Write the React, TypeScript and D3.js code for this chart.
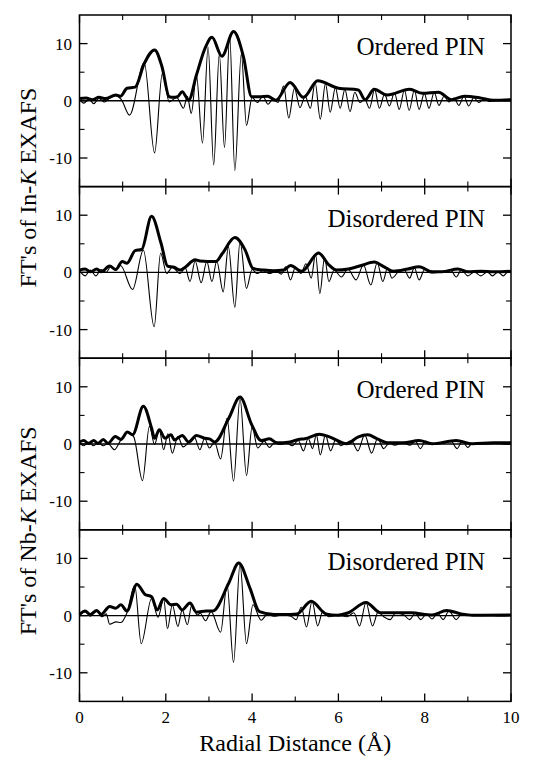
import React from 'react';
import * as d3 from 'd3';

type Pt = [number, number];

// |FT| envelopes (thick) and Im parts (thin)
const inOrdMag: Pt[] = [[0,0.4],[0.15,0.5],[0.3,0.2],[0.45,0.6],[0.6,0.4],[0.84,1.0],[0.95,0.8],[1.1,2.2],[1.29,2.4],[1.5,6.5],[1.74,8.9],[1.91,6.0],[2.08,0.7],[2.17,0.6],[2.27,0.7],[2.38,1.6],[2.53,0.1],[2.71,4.5],[2.9,9.0],[3.07,11.1],[3.3,7.8],[3.57,12.1],[3.8,7.7],[3.99,0.7],[4.17,0.7],[4.36,0.8],[4.55,0.1],[4.88,3.2],[5.19,0.6],[5.52,3.5],[6.0,2.2],[6.46,1.9],[6.62,0.2],[6.83,2.0],[7.13,1.0],[7.65,2.0],[7.95,1.3],[8.32,1.5],[8.62,0.2],[8.92,0.8],[9.29,0.5],[9.59,0.1],[10,0.2]];
const inOrdIm: Pt[] = [[0,0.2],[0.1,-0.4],[0.22,0.3],[0.33,-0.5],[0.45,0.4],[0.58,-0.2],[0.7,0.5],[0.84,0.9],[0.97,0.2],[1.16,-2.5],[1.5,6.7],[1.74,-9.1],[1.92,4.8],[2.08,-0.2],[2.25,0.6],[2.41,-1.3],[2.5,0.8],[2.59,-2.2],[2.71,4.5],[2.85,-7.4],[2.98,9.4],[3.11,-11.2],[3.24,8.2],[3.36,-8.2],[3.48,11.4],[3.6,-12.2],[3.75,8.2],[3.87,-4.3],[4.0,0.6],[4.12,-0.3],[4.25,0.8],[4.37,-0.6],[4.49,0.4],[4.6,-0.3],[4.73,2.6],[4.85,-3.0],[4.98,2.2],[5.11,-1.2],[5.23,0.8],[5.35,-1.3],[5.46,3.2],[5.58,-3.2],[5.7,3.0],[5.81,-2.0],[5.93,2.3],[6.04,-1.3],[6.15,2.0],[6.27,-1.9],[6.38,1.5],[6.5,-0.3],[6.61,0.3],[6.72,-1.3],[6.84,2.0],[6.95,-1.3],[7.07,1.2],[7.18,-0.9],[7.3,1.4],[7.41,-1.5],[7.53,1.9],[7.64,-1.7],[7.76,1.9],[7.87,-1.5],[7.99,1.3],[8.1,-1.3],[8.22,1.5],[8.33,-0.8],[8.45,0.8],[8.56,-0.2],[8.68,0.5],[8.79,-0.8],[8.91,0.8],[9.02,-0.9],[9.14,0.6],[9.25,-0.3],[9.37,0.3],[9.5,-0.1],[9.7,0.1],[10,0]];

const inDisMag: Pt[] = [[0,0.4],[0.13,0.6],[0.25,0.1],[0.4,0.6],[0.5,0.1],[0.7,1.1],[0.84,0.5],[0.99,1.9],[1.1,1.6],[1.29,3.8],[1.44,4.0],[1.67,9.8],[1.89,5.1],[2.04,1.1],[2.19,0.9],[2.33,0.4],[2.45,0.9],[2.68,2.2],[2.79,2.0],[3.16,1.9],[3.31,3.3],[3.6,6.1],[3.84,3.9],[4.02,0.7],[4.28,0.4],[4.5,0.3],[4.73,0.4],[4.89,1.2],[5.15,0.2],[5.54,3.4],[5.78,1.3],[5.96,0.4],[6.23,0.6],[6.53,1.2],[6.83,1.8],[7.05,1.0],[7.28,0.2],[7.61,0.6],[7.87,1.0],[8.17,0.1],[8.4,0.1],[8.77,0.6],[9.0,0.1],[9.3,0.2],[9.6,0.1],[10,0.2]];
const inDisIm: Pt[] = [[0,0.3],[0.13,-0.6],[0.25,0.4],[0.38,-0.6],[0.5,0.5],[0.62,0.0],[0.72,1.0],[0.84,0.4],[0.95,1.2],[1.23,-3.0],[1.48,3.9],[1.73,-9.5],[1.88,3.4],[2.02,-0.2],[2.15,0.9],[2.33,-0.2],[2.45,0.8],[2.56,-1.6],[2.68,2.0],[2.82,-1.8],[2.95,1.9],[3.07,-1.6],[3.18,2.0],[3.33,-3.4],[3.45,4.5],[3.6,-6.1],[3.72,5.4],[3.87,-2.8],[4.0,0.5],[4.12,-0.2],[4.25,0.3],[4.4,-0.2],[4.55,0.2],[4.68,-0.3],[4.78,1.0],[4.89,-1.3],[5.0,0.8],[5.13,-0.2],[5.25,1.5],[5.37,-1.0],[5.47,3.2],[5.57,-3.7],[5.68,2.6],[5.78,-1.6],[5.9,0.4],[6.07,-0.8],[6.22,0.6],[6.41,-1.3],[6.58,1.3],[6.75,-2.2],[6.9,1.7],[7.03,-1.6],[7.14,0.8],[7.24,-1.0],[7.4,0.2],[7.52,0.5],[7.65,-1.0],[7.76,0.8],[7.87,-1.3],[8.0,0.5],[8.15,-0.1],[8.4,0.1],[8.6,0.4],[8.73,-0.8],[8.85,0.4],[9.0,-0.6],[9.15,0.1],[9.3,-0.6],[9.45,0.1],[9.57,-0.6],[9.7,0.1],[9.82,-0.6],[9.93,0.1],[10,0]];

const nbOrdMag: Pt[] = [[0,0.35],[0.1,0.6],[0.21,0.1],[0.33,0.6],[0.43,0.1],[0.55,0.8],[0.66,0.1],[0.83,1.3],[0.96,0.8],[1.11,2.1],[1.23,1.6],[1.48,6.6],[1.67,2.8],[1.74,1.0],[1.85,2.5],[1.98,1.0],[2.12,1.6],[2.2,0.7],[2.38,1.5],[2.53,0.35],[2.71,1.5],[2.9,1.0],[3.01,0.9],[3.13,0.35],[3.46,4.5],[3.72,8.2],[3.99,3.4],[4.21,0.6],[4.4,0.9],[4.58,0.2],[4.88,0.35],[5.07,0.8],[5.22,0.9],[5.56,1.7],[5.78,1.3],[6.19,0.05],[6.45,1.2],[6.68,1.6],[6.9,0.9],[7.16,0.2],[7.5,0.2],[7.87,0.6],[8.17,0.05],[8.73,0.6],[9.1,0.05],[9.59,0.2],[10,0.2]];
const nbOrdIm: Pt[] = [[0,0.2],[0.1,-0.3],[0.21,0.3],[0.33,-0.3],[0.43,0.3],[0.55,-0.3],[0.66,0.1],[0.81,-1.0],[0.95,0.6],[1.12,2.1],[1.26,1.2],[1.46,-6.4],[1.62,3.1],[1.74,-0.1],[1.85,2.5],[1.95,-1.0],[2.05,1.8],[2.15,-1.6],[2.28,1.3],[2.4,-0.5],[2.53,0.3],[2.66,1.2],[2.79,-1.0],[2.9,1.0],[3.01,-0.7],[3.13,0.3],[3.27,-2.6],[3.42,4.5],[3.57,-6.5],[3.72,8.0],[3.87,-5.5],[4.0,3.0],[4.13,-0.7],[4.28,0.5],[4.4,-0.6],[4.52,0.2],[4.65,-0.1],[4.8,0.2],[4.93,-0.3],[5.07,0.6],[5.19,-1.2],[5.3,1.0],[5.4,-0.8],[5.49,1.6],[5.58,-1.9],[5.7,1.6],[5.82,-1.2],[5.94,0.8],[6.05,-0.3],[6.17,0.1],[6.3,0.6],[6.45,-1.2],[6.61,1.6],[6.77,-1.6],[6.91,1.0],[7.05,-0.8],[7.18,0.2],[7.3,-0.2],[7.5,0.2],[7.66,-0.2],[7.78,0.5],[7.9,-0.8],[8.02,0.5],[8.17,-0.1],[8.4,0.1],[8.62,0.4],[8.75,-0.8],[8.87,0.5],[9.0,-0.6],[9.1,0.1],[9.4,0],[9.6,0.1],[10,0]];

const nbDisMag: Pt[] = [[0,0.2],[0.13,0.8],[0.25,0.2],[0.4,0.9],[0.5,0.2],[0.7,1.6],[0.84,1.3],[0.96,1.9],[1.1,0.8],[1.33,5.5],[1.52,3.7],[1.67,3.3],[1.8,1.0],[1.95,3.0],[2.12,1.9],[2.25,2.0],[2.38,1.0],[2.56,2.2],[2.71,0.6],[2.94,0.8],[3.09,0.8],[3.46,5.7],[3.69,9.2],[3.95,4.8],[4.17,0.7],[4.51,0.2],[4.73,0.2],[5.04,0.3],[5.37,2.5],[5.71,0.3],[5.97,0.05],[6.23,0.5],[6.64,2.3],[6.98,0.5],[7.24,0.5],[7.69,0.5],[8.17,0.1],[8.51,0.9],[8.84,0.3],[9.14,0.05],[10,0.1]];
const nbDisIm: Pt[] = [[0,0.1],[0.13,0.7],[0.25,-0.1],[0.4,0.8],[0.52,-0.2],[0.62,0.3],[0.7,-1.5],[0.85,-1.1],[0.96,-1.2],[1.1,0.5],[1.28,5.3],[1.43,-4.9],[1.67,3.0],[1.82,-0.3],[1.95,2.9],[2.04,-2.3],[2.15,1.9],[2.28,-1.9],[2.38,1.0],[2.5,-1.6],[2.6,1.8],[2.73,0.1],[2.8,0.4],[2.92,-0.9],[3.05,0.7],[3.27,-2.9],[3.42,5.4],[3.57,-8.2],[3.72,9.0],[3.87,-4.9],[4.02,1.9],[4.21,-0.8],[4.35,0.2],[4.5,-0.1],[4.7,0.1],[4.9,-0.1],[5.02,-0.7],[5.14,1.5],[5.26,-2.0],[5.39,2.5],[5.52,-1.8],[5.64,0.8],[5.78,-0.2],[6.0,0.05],[6.2,-0.2],[6.36,0.5],[6.49,-1.8],[6.64,2.3],[6.79,-1.8],[6.92,0.6],[7.05,-0.2],[7.2,-0.7],[7.32,0.4],[7.5,0.2],[7.65,-0.7],[7.78,0.4],[7.91,-0.7],[8.04,0.3],[8.17,-0.6],[8.3,0.4],[8.43,-0.7],[8.56,0.8],[8.73,-0.7],[8.85,0.2],[9.1,0],[9.4,0.1],[9.7,-0.05],[10,0.05]];

const panelLabels = ['Ordered PIN', 'Disordered PIN', 'Ordered PIN', 'Disordered PIN'];
const xMajor = [0, 2, 4, 6, 8, 10];
const xMinor = [1, 3, 5, 7, 9];
const yMajor = [-10, 0, 10];
const yMinor = [-5, 5];

const panels = [
  { mag: inOrdMag, im: inOrdIm, label: panelLabels[0] },
  { mag: inDisMag, im: inDisIm, label: panelLabels[1] },
  { mag: nbOrdMag, im: nbOrdIm, label: panelLabels[2] },
  { mag: nbDisMag, im: nbDisIm, label: panelLabels[3] },
];

const FONT = 'Liberation Serif, Tinos, Times New Roman, Times, Nimbus Roman, FreeSerif, Noto Serif, DejaVu Serif, serif';

export default function App() {
  const W = 541, H = 767;
  const left = 79.5, right = 511, top = 15, ph = 171.6;
  const x = d3.scaleLinear().domain([0, 10]).range([left, right]);

  return (
    <div style={{ position: 'absolute', left: 0, top: 0, fontFamily: FONT }}>
      <svg width={W} height={H} style={{ display: 'block', background: '#fff' }} fontFamily={FONT}>
        {panels.map((p, i) => {
          const t = top + i * ph;
          const y = d3.scaleLinear().domain([-15, 15]).range([t + ph, t]);
          const line = d3.line<Pt>().x(d => x(d[0])).y(d => y(d[1])).curve(d3.curveMonotoneX);
          return (
            <g key={i}>
              <line x1={left} x2={right} y1={y(0)} y2={y(0)} stroke="#000" strokeWidth={1.4} />
              <path d={line(p.im) || ''} fill="none" stroke="#000" strokeWidth={1.1} />
              <path d={line(p.mag) || ''} fill="none" stroke="#000" strokeWidth={3} strokeLinejoin="round" />
              <rect x={left} y={t} width={right - left} height={ph} fill="none" stroke="#000" strokeWidth={1.5} />
              {xMajor.map(v => (
                <g key={'xM' + v}>
                  <line x1={x(v)} x2={x(v)} y1={t} y2={t + 8} stroke="#000" strokeWidth={1.3} />
                  <line x1={x(v)} x2={x(v)} y1={t + ph} y2={t + ph - 8} stroke="#000" strokeWidth={1.3} />
                </g>
              ))}
              {xMinor.map(v => (
                <g key={'xm' + v}>
                  <line x1={x(v)} x2={x(v)} y1={t} y2={t + 5} stroke="#000" strokeWidth={1.1} />
                  <line x1={x(v)} x2={x(v)} y1={t + ph} y2={t + ph - 5} stroke="#000" strokeWidth={1.1} />
                </g>
              ))}
              {yMajor.map(v => (
                <g key={'yM' + v}>
                  <line x1={left} x2={left + 8} y1={y(v)} y2={y(v)} stroke="#000" strokeWidth={1.3} />
                  <line x1={right} x2={right - 8} y1={y(v)} y2={y(v)} stroke="#000" strokeWidth={1.3} />
                  <text x={72} y={y(v)} dy="0.35em" textAnchor="end" fontSize={17}>{v}</text>
                </g>
              ))}
              {yMinor.map(v => (
                <g key={'ym' + v}>
                  <line x1={left} x2={left + 5} y1={y(v)} y2={y(v)} stroke="#000" strokeWidth={1.1} />
                  <line x1={right} x2={right - 5} y1={y(v)} y2={y(v)} stroke="#000" strokeWidth={1.1} />
                </g>
              ))}
              <text x={485} y={t + 40} textAnchor="end" fontSize={25}>{p.label}</text>
            </g>
          );
        })}
        {xMajor.map(v => (
          <text key={'xl' + v} x={x(v)} y={top + 4 * ph + 22} textAnchor="middle" fontSize={17}>{v}</text>
        ))}
        <text x={(left + right) / 2} y={751} textAnchor="middle" fontSize={24}>Radial Distance (Å)</text>
        <text transform={`translate(36,${top + ph + 1}) rotate(-90)`} textAnchor="middle" fontSize={24}>
          FT's of In-<tspan fontStyle="italic">K</tspan> EXAFS
        </text>
        <text transform={`translate(36,${top + 3 * ph + 1}) rotate(-90)`} textAnchor="middle" fontSize={24}>
          FT's of Nb-<tspan fontStyle="italic">K</tspan> EXAFS
        </text>
      </svg>
    </div>
  );
}
